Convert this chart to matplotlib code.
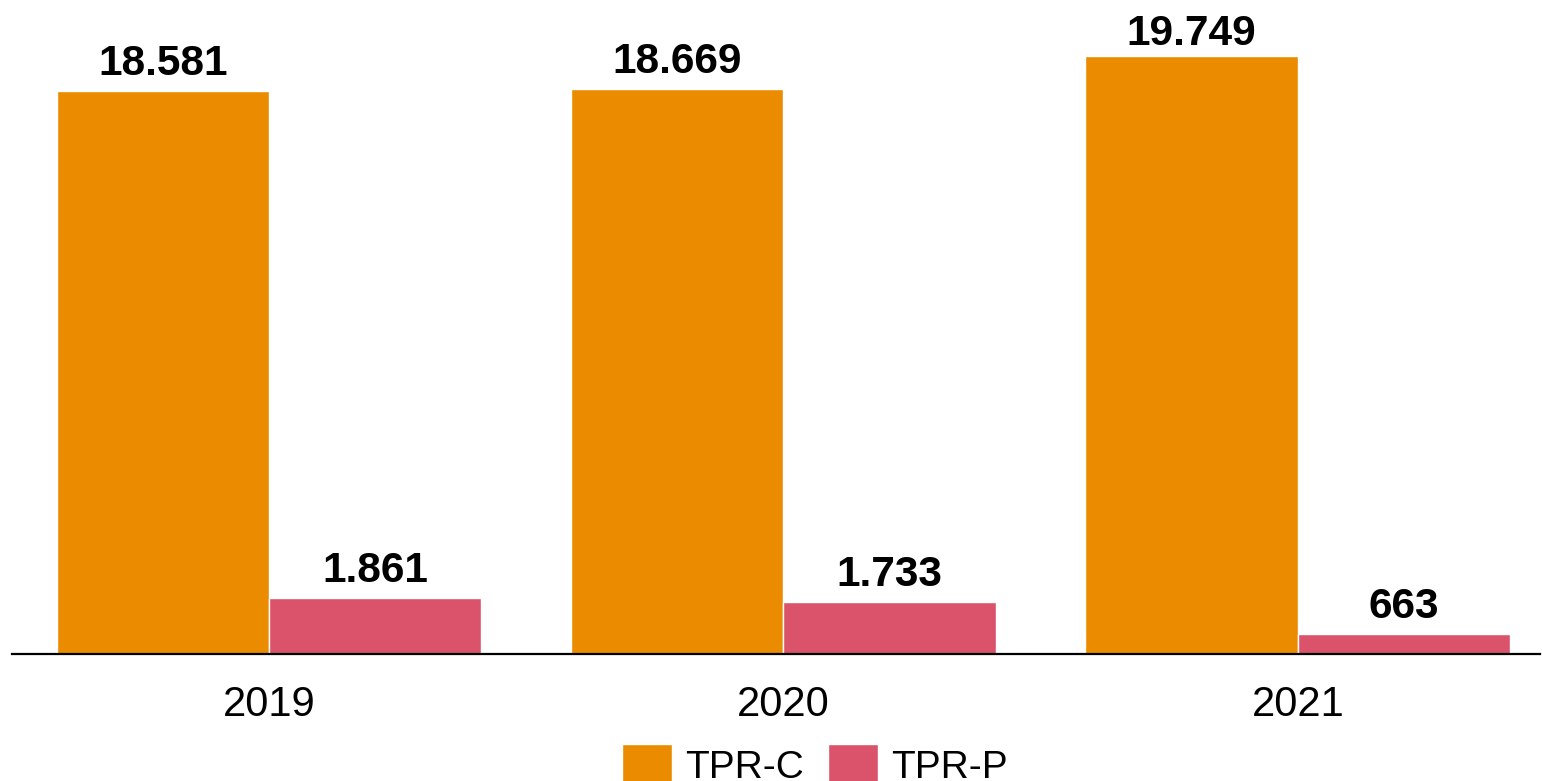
import matplotlib.pyplot as plt
import numpy as np

years = ["2019", "2020", "2021"]
tpr_c = [18581, 18669, 19749]
tpr_p = [1861, 1733, 663]
series_names = ["TPR-C", "TPR-P"]
colors = ["#EB8C00", "#DB536A"]

plt.rcParams['font.family'] = ['Liberation Sans', 'DejaVu Sans']

def fmt(v):
    return f"{v:,}".replace(",", ".")

fig = plt.figure(figsize=(15.42, 7.81), dpi=100)
ax = fig.add_axes([12/1542, 1 - 654/781, 1528/1542, 654/781])

ymax = 21600
px = ymax / 654  # data units per pixel

x = np.arange(len(years))
w = 0.413
b1 = ax.bar(x - w/2, tpr_c, w, color=colors[0], edgecolor="white", linewidth=1, label=series_names[0])
b2 = ax.bar(x + w/2, tpr_p, w, color=colors[1], edgecolor="white", linewidth=1, label=series_names[1])

for bars, vals in ((b1, tpr_c), (b2, tpr_p)):
    for r, v in zip(bars, vals):
        ty = min(v + 16 * px, ymax - 45 * px)
        ax.text(r.get_x() + r.get_width()/2, ty, fmt(v), ha="center", va="baseline",
                fontsize=30.5, fontweight="bold")

ax.set_xlim(-0.4995, 2.4704)
ax.set_ylim(0, ymax)
ax.set_xticks(x)
ax.set_xticklabels(years, fontsize=30)
ax.tick_params(axis="x", length=0, pad=22)
ax.set_yticks([])
for s in ("top", "right", "left"):
    ax.spines[s].set_visible(False)
ax.spines["bottom"].set_linewidth(1.6)

fig.legend(loc="upper left", bbox_to_anchor=(622/1542, 1 - 744/781), ncol=2,
           frameon=False, fontsize=28, borderpad=0, handlelength=1.29,
           handleheight=1.3, handletextpad=0.33, columnspacing=0.62,
           borderaxespad=0)

fig.savefig("out.png", dpi=100)
